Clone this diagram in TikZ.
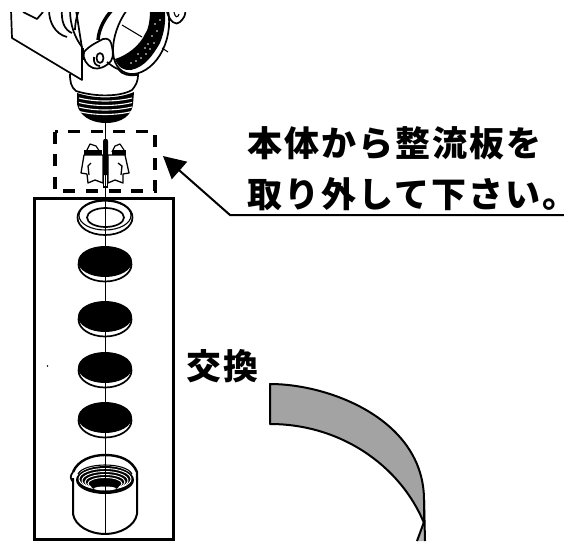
\documentclass[tikz,border=0pt]{standalone}
\usepackage{fontspec}
\newfontfamily\cjk[LetterSpace=6]{Noto Sans CJK JP}
\usetikzlibrary{arrows.meta}
\tikzset{
  outline/.style={draw=black,line width=1.7pt,line join=round},
  thinline/.style={draw=black,line width=1.1pt},
  caption/.style={font=\cjk\bfseries\fontsize{35}{35}\selectfont,inner sep=0pt,anchor=west,text=black},
  ribbon/.style={fill=black!36,draw=black,line width=2pt,line join=round}
}
\begin{document}
\begin{tikzpicture}[x=1pt,y=-1pt]
\useasboundingbox (0,0) rectangle (564,541);
% --- valve body, cropped at the top
\begin{scope}
\clip (0,12.5) rectangle (200,130);
% neck
\draw[outline,fill=white] (70,74) .. controls (70,82) and (71,87) .. (76,91)
   .. controls (95,97) and (120,97) .. (132,90) .. controls (136,85) and (138,82) .. (138,74);
% thread
\fill[black] (77,93) .. controls (95,99) and (118,99) .. (134,92) -- (133,104)
   .. controls (132,115) and (122,123) .. (106,123) .. controls (90,123) and (79,115) .. (77,104) -- cycle;
\foreach \y in {98,102.5,107,111.5}{
  \draw[white,line width=1.1pt] (79,\y) .. controls (95,\y+4) and (115,\y+4) .. (132,\y);
}
% box
\draw[outline,fill=white] (11,10)--(12,38)--(82,80)--(82,48)--(76,10);
\draw[outline] (23,12)--(37,19)--(43,12);
\draw[outline] (49,10) .. controls (49,22) and (55,34) .. (67,37);
\draw[outline] (62,10) .. controls (61,20) and (64,30) .. (72,33);
\draw[outline] (70,10) .. controls (70,25) and (75,38) .. (82,47);
\draw[outline] (79,10) .. controls (76,18) and (75,25) .. (75,30);
% ring
\draw[outline,fill=white] (127,10) .. controls (118,22) and (113,38) .. (113,50)
   .. controls (113,62) and (118,72) .. (130,74) .. controls (140,75) and (152,68) .. (160,55)
   .. controls (168,42) and (171,25) .. (168,10) -- cycle;
\fill[black] (115,59) .. controls (118,68) and (125,71) .. (131,70)
   .. controls (145,67) and (153,55) .. (160,43) .. controls (164,33) and (166,22) .. (165,10)
   -- (150,10) .. controls (150,22) and (148,30) .. (145,34)
   .. controls (140,45) and (128,55) .. (115,59) -- cycle;
\foreach \p/\q in {131/63,136/61,141/58,146/54,150/49,154/43,148/44,152/36,157/31,155/24,160/20,145/48,138/54}{
  \fill[white] (\p,\q) circle (0.8);
}
\draw[thinline] (122,25)--(142,37);
\draw[thinline] (162,48)--(168,52);
% arc beside the ring
\draw[draw=black,line width=3.4pt] (112,10) .. controls (105,18) and (99,28) .. (98,40);
% right hook
\draw[outline] (167,12) .. controls (170,22) and (176,26) .. (180,22) .. controls (184,18) and (186,15) .. (185,10);
\draw[thinline] (174,12) .. controls (175,18) and (178,18) .. (179,14);
% lug
\draw[outline,fill=white] (84,52) .. controls (90,45) and (98,42) .. (103,39)
   .. controls (108,38) and (110,40) .. (111,43)
   .. controls (113,50) and (114,56) .. (111,61) .. controls (106,67) and (98,70) .. (93,68)
   .. controls (87,66) and (82,58) .. (84,52) -- cycle;
\draw[outline,fill=white] (100,58) ellipse (3.5 and 5);
\draw[outline] (94,57) .. controls (93,63) and (96,66) .. (100,66);
\draw[draw=black,line width=3pt] (82,48)--(82,60);
\draw[outline] (107,62) .. controls (112,66) and (115,68) .. (118,69);
\draw[outline] (118,69) .. controls (122,75) and (130,76) .. (137,75);
\end{scope}
% --- centre axis
\coordinate (axisTop) at (105.5,122);
\coordinate (axisBottom) at (105.5,534);
% --- dashed frame and baffle
\draw[black,line width=3.2pt,dash pattern=on 12pt off 10.6pt] (55,131.5) rectangle (155,191);
\draw[outline,line width=1.3pt,fill=white]
  (103,155)--(84,155)--(81,173)--(87,174)--(88,183)--(95,180)--(103,183)--cycle;
\draw[outline,line width=1.3pt]
  (91,163)--(88,166)--(89,175);
\draw[outline,line width=1.3pt,fill=white]
  (108,155)--(125,155)--(129,173)--(123,174)--(123,183)--(115,180)--(108,183)--cycle;
\draw[outline,line width=1.3pt]
  (118,163)--(122,166)--(121,175);
\fill[black] (84,150) rectangle (102,155);
\fill[black] (112,150) rectangle (126,155);
\draw[outline,line width=1.2pt] (87,150)--(90,144)--(96,146)--(100,152);
\draw[outline,line width=1.2pt] (124,150)--(120,144)--(115,146)--(112,152);
\draw[thinline,fill=white] (103.5,173) rectangle (107.5,187);
\fill[black] (103,141) -- (104,139) -- (107,139) -- (108,141) -- (108,175) -- (103,175) -- cycle;
% --- parts frame
\node[draw=black,line width=3pt,minimum width=139pt,minimum height=341pt,inner sep=0pt,anchor=north west] (frame) at (33,197) {};
% --- ring washer
\draw[outline,fill=white] (105,217.5) ellipse (27.5 and 17.5);
\draw[thinline] (105,215.5) ellipse (26 and 14.5);
\draw[outline,fill=white] (105.5,217.5) ellipse (18.5 and 9.5);
% --- discs
\foreach \cy in {263,318,369,419}{
  \draw[outline,fill=white] (105,\cy+1.5) ellipse (26.5 and 17);
  \fill[black] (105,\cy-1.5) ellipse (27 and 15.5);
}
% --- threaded cap
\draw[outline,line width=2pt,fill=white] (73,478) -- (73,514) .. controls (75,526) and (90,534) .. (105,534)
  .. controls (120,534) and (135,526) .. (137,514) -- (137,478);
\draw[draw=black,line width=2.4pt] (73,472) .. controls (78,460) and (92,455) .. (105,455)
  .. controls (120,455) and (132,460) .. (137,472) -- (137,480);
\draw[outline] (73,472) .. controls (70,476) and (70,478) .. (73,482);
\draw[thinline] (78,474) .. controls (84,462) and (126,462) .. (132,474);
\fill[black] (105,480) ellipse (29 and 14);
\foreach \rx/\ry/\oy in {26/10.5/-1, 23/9/0.5, 20/7.5/2, 17/6/3.5}{
  \draw[white,line width=0.9pt] (105,480+\oy) ellipse (\rx pt and \ry pt);
}
\fill[black] (105,486) ellipse (14 and 5);
\fill[white] (105,488.5) ellipse (11 and 2);
% axis over everything
\draw[thinline] (axisTop) -- (axisBottom);
\fill[black] (47.5,366) circle (0.9);
% --- ribbon
\fill[black!30] (417,541)--(424,522)--(425,541)--cycle;
\draw[ribbon] (270,384) .. controls (330,384) and (424,420) .. (424,500) -- (424,523)
  .. controls (400,465) and (340,424) .. (270,424) -- cycle;
\draw[draw=black,line width=2pt] (424,500)--(425,541);
\draw[draw=black,line width=2pt] (424,522)--(417,541);
% --- labels
\node[caption] (title1) at (247,143) {本体から整流板を};
\node[caption] (title2) at (247,194) {取り外して下さい。\kern-20pt};
\node[caption] (swap) at (186,366) {交換};
% --- leader arrow
\coordinate (leaderEnd) at (564,215);
\coordinate (leaderKnee) at (230,215);
\coordinate (leaderTip) at (163,156);
\draw[line width=2pt,-{Triangle[length=22pt,width=23pt]}] (leaderEnd) -- (leaderKnee) -- (leaderTip);
\end{tikzpicture}
\end{document}
